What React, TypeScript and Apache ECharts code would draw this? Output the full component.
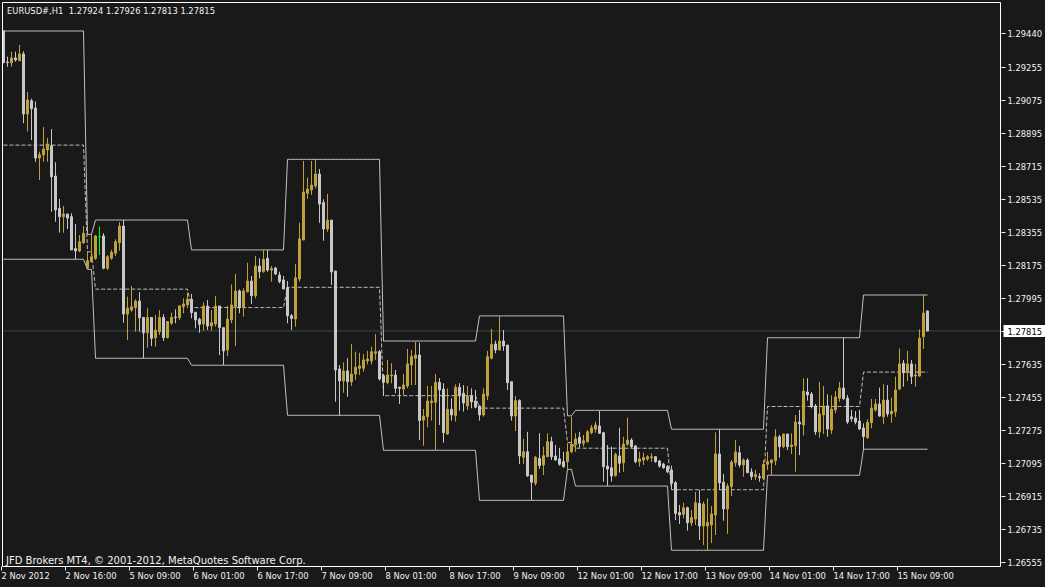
import React, { useEffect, useRef } from "react";
import * as echarts from "echarts";

// ---------- data (EURUSD H1, 2 Nov 2012 00:00 .. 15 Nov 2012 16:00) ----------
const opens = [
  1.29451, 1.29282, 1.29278, 1.29304, 1.29289, 1.29326, 1.28998, 1.29071, 1.29031, 1.28758,
  1.28775, 1.28802, 1.28825, 1.28660, 1.28484, 1.28438, 1.28453, 1.28438, 1.28264, 1.28251,
  1.28296, 1.28157, 1.28193, 1.28211, 1.28329, 1.28333, 1.28157, 1.28211, 1.28239, 1.28296,
  1.28387, 1.27907, 1.27929, 1.27942, 1.27978, 1.27889, 1.27805, 1.27889, 1.27778, 1.27811,
  1.27889, 1.27778, 1.27857, 1.27891, 1.27887, 1.27947, 1.27957, 1.27988, 1.27917, 1.27879,
  1.27853, 1.27951, 1.27842, 1.27853, 1.27951, 1.27833, 1.27711, 1.27875, 1.27947, 1.28033,
  1.27942, 1.28029, 1.28087, 1.28007, 1.28169, 1.28138, 1.28211, 1.28147, 1.28158, 1.28120,
  1.28093, 1.28051, 1.27898, 1.27880, 1.28098, 1.28311, 1.28566, 1.28584, 1.28606, 1.28671,
  1.28515, 1.28371, 1.28420, 1.28142, 1.27608, 1.27542, 1.27597, 1.27537, 1.27580, 1.27611,
  1.27611, 1.27651, 1.27651, 1.27693, 1.27702, 1.27571, 1.27533, 1.27569, 1.27575, 1.27508,
  1.27498, 1.27515, 1.27629, 1.27666, 1.27684, 1.27329, 1.27347, 1.27424, 1.27426, 1.27535,
  1.27498, 1.27253, 1.27388, 1.27353, 1.27508, 1.27475, 1.27406, 1.27460, 1.27433, 1.27406,
  1.27357, 1.27460, 1.27666, 1.27744, 1.27711, 1.27760, 1.27738, 1.27538, 1.27351, 1.27435,
  1.27126, 1.27156, 1.27029, 1.26984, 1.27120, 1.27084, 1.27129, 1.27211, 1.27133, 1.27117,
  1.27102, 1.27102, 1.27156, 1.27193, 1.27235, 1.27202, 1.27211, 1.27260, 1.27279, 1.27297,
  1.27260, 1.27078, 1.27069, 1.27026, 1.27133, 1.27096, 1.27197, 1.27220, 1.27188, 1.27102,
  1.27111, 1.27117, 1.27124, 1.27129, 1.27106, 1.27089, 1.27075, 1.27057, 1.26987, 1.26824,
  1.26815, 1.26851, 1.26769, 1.26789, 1.26875, 1.26751, 1.26751, 1.26757, 1.26811, 1.27144,
  1.26990, 1.26844, 1.26966, 1.27096, 1.27151, 1.27084, 1.27111, 1.27046, 1.27020, 1.27020,
  1.27011, 1.27088, 1.27096, 1.27107, 1.27238, 1.27184, 1.27253, 1.27184, 1.27189, 1.27318,
  1.27302, 1.27482, 1.27471, 1.27406, 1.27265, 1.27357, 1.27406, 1.27275, 1.27384, 1.27448,
  1.27504, 1.27449, 1.27347, 1.27340, 1.27324, 1.27286, 1.27233, 1.27315, 1.27384, 1.27417,
  1.27347, 1.27438, 1.27362, 1.27373, 1.27498, 1.27639, 1.27587, 1.27635, 1.27569, 1.27569,
  1.27784, 1.27924,
];
const highs = [
  1.29454, 1.29311, 1.29338, 1.29338, 1.29375, 1.29340, 1.29118, 1.29082, 1.29067, 1.28793,
  1.28927, 1.28867, 1.28916, 1.28735, 1.28535, 1.28497, 1.28453, 1.28457, 1.28398, 1.28338,
  1.28387, 1.28251, 1.28342, 1.28338, 1.28384, 1.28348, 1.28229, 1.28257, 1.28315, 1.28409,
  1.28420, 1.28002, 1.28060, 1.27988, 1.28026, 1.27889, 1.27939, 1.27889, 1.27902, 1.27929,
  1.27906, 1.27866, 1.27915, 1.27933, 1.27957, 1.27993, 1.28024, 1.28017, 1.27917, 1.27887,
  1.27971, 1.27984, 1.27929, 1.28006, 1.27951, 1.27833, 1.27951, 1.28069, 1.28126, 1.28042,
  1.28048, 1.28187, 1.28115, 1.28224, 1.28211, 1.28257, 1.28257, 1.28169, 1.28165, 1.28138,
  1.28115, 1.28087, 1.27907, 1.28180, 1.28405, 1.28742, 1.28651, 1.28742, 1.28751, 1.28698,
  1.28533, 1.28562, 1.28420, 1.28142, 1.27629, 1.27644, 1.27666, 1.27744, 1.27702, 1.27696,
  1.27689, 1.27707, 1.27729, 1.27798, 1.27711, 1.27580, 1.27657, 1.27639, 1.27602, 1.27511,
  1.27580, 1.27717, 1.27711, 1.27756, 1.27751, 1.27389, 1.27515, 1.27515, 1.27580, 1.27557,
  1.27530, 1.27502, 1.27448, 1.27524, 1.27530, 1.27520, 1.27515, 1.27502, 1.27493, 1.27411,
  1.27502, 1.27706, 1.27826, 1.27762, 1.27897, 1.27820, 1.27738, 1.27538, 1.27460, 1.27442,
  1.27226, 1.27265, 1.27029, 1.27133, 1.27257, 1.27184, 1.27257, 1.27238, 1.27193, 1.27178,
  1.27156, 1.27202, 1.27347, 1.27257, 1.27265, 1.27248, 1.27275, 1.27302, 1.27320, 1.27380,
  1.27265, 1.27193, 1.27184, 1.27151, 1.27287, 1.27238, 1.27342, 1.27230, 1.27193, 1.27156,
  1.27151, 1.27138, 1.27148, 1.27133, 1.27111, 1.27096, 1.27084, 1.27080, 1.26997, 1.26866,
  1.26878, 1.26857, 1.26839, 1.26937, 1.26948, 1.26884, 1.26902, 1.26860, 1.27262, 1.27279,
  1.27035, 1.26984, 1.27111, 1.27220, 1.27188, 1.27120, 1.27120, 1.27066, 1.27057, 1.27039,
  1.27111, 1.27156, 1.27117, 1.27279, 1.27248, 1.27253, 1.27253, 1.27257, 1.27357, 1.27384,
  1.27557, 1.27557, 1.27482, 1.27417, 1.27537, 1.27515, 1.27469, 1.27464, 1.27487, 1.27537,
  1.27778, 1.27466, 1.27384, 1.27378, 1.27384, 1.27311, 1.27333, 1.27444, 1.27444, 1.27506,
  1.27524, 1.27520, 1.27451, 1.27566, 1.27720, 1.27657, 1.27706, 1.27657, 1.27635, 1.27824,
  1.28011, 1.27926,
];
const lows = [
  1.29275, 1.29256, 1.29256, 1.29284, 1.29289, 1.28948, 1.28902, 1.28856, 1.28738, 1.28638,
  1.28738, 1.28738, 1.28465, 1.28411, 1.28351, 1.28351, 1.28371, 1.28257, 1.28206, 1.28244,
  1.28289, 1.28151, 1.28189, 1.28202, 1.28229, 1.28151, 1.28147, 1.28202, 1.28224, 1.28253,
  1.27860, 1.27766, 1.27920, 1.27811, 1.27811, 1.27666, 1.27724, 1.27733, 1.27729, 1.27793,
  1.27760, 1.27775, 1.27847, 1.27857, 1.27875, 1.27911, 1.27939, 1.27884, 1.27829, 1.27805,
  1.27816, 1.27820, 1.27816, 1.27838, 1.27684, 1.27629, 1.27678, 1.27857, 1.27733, 1.27911,
  1.27893, 1.28024, 1.27962, 1.27993, 1.28102, 1.28133, 1.28138, 1.28084, 1.28120, 1.28075,
  1.28044, 1.27857, 1.27820, 1.27838, 1.28084, 1.28311, 1.28535, 1.28557, 1.28593, 1.28405,
  1.28307, 1.28356, 1.28066, 1.27429, 1.27353, 1.27478, 1.27456, 1.27515, 1.27548, 1.27575,
  1.27593, 1.27633, 1.27633, 1.27657, 1.27544, 1.27460, 1.27524, 1.27530, 1.27475, 1.27417,
  1.27466, 1.27502, 1.27520, 1.27520, 1.27220, 1.27189, 1.27290, 1.27326, 1.27166, 1.27302,
  1.27206, 1.27248, 1.27326, 1.27320, 1.27380, 1.27375, 1.27384, 1.27393, 1.27393, 1.27326,
  1.27347, 1.27438, 1.27660, 1.27693, 1.27711, 1.27706, 1.27493, 1.27326, 1.27269, 1.27089,
  1.27089, 1.27020, 1.26893, 1.26971, 1.27062, 1.27029, 1.27129, 1.27111, 1.27107, 1.27080,
  1.27069, 1.27060, 1.27148, 1.27156, 1.27178, 1.27184, 1.27206, 1.27251, 1.27260, 1.27253,
  1.26993, 1.26969, 1.26993, 1.27020, 1.27042, 1.27047, 1.27188, 1.27175, 1.27093, 1.27075,
  1.27084, 1.27106, 1.27102, 1.27096, 1.27069, 1.27062, 1.27039, 1.26951, 1.26784, 1.26762,
  1.26793, 1.26726, 1.26751, 1.26757, 1.26675, 1.26648, 1.26619, 1.26658, 1.26702, 1.26948,
  1.26780, 1.26708, 1.26915, 1.27075, 1.27071, 1.27020, 1.27039, 1.27002, 1.27002, 1.26993,
  1.27002, 1.27057, 1.27029, 1.27082, 1.27124, 1.27175, 1.27166, 1.27144, 1.27047, 1.27138,
  1.27244, 1.27435, 1.27393, 1.27248, 1.27233, 1.27253, 1.27238, 1.27253, 1.27366, 1.27429,
  1.27438, 1.27308, 1.27320, 1.27306, 1.27275, 1.27171, 1.27227, 1.27284, 1.27375, 1.27347,
  1.27308, 1.27347, 1.27315, 1.27347, 1.27493, 1.27511, 1.27542, 1.27525, 1.27511, 1.27566,
  1.27717, 1.27813,
];
const closes = [
  1.29279, 1.29279, 1.29304, 1.29293, 1.29326, 1.28998, 1.29075, 1.29027, 1.28758, 1.28776,
  1.28807, 1.28835, 1.28656, 1.28475, 1.28438, 1.28453, 1.28431, 1.28257, 1.28251, 1.28302,
  1.28348, 1.28198, 1.28220, 1.28333, 1.28329, 1.28157, 1.28220, 1.28244, 1.28302, 1.28387,
  1.27907, 1.27940, 1.27947, 1.27978, 1.27887, 1.27805, 1.27889, 1.27775, 1.27820, 1.27889,
  1.27778, 1.27866, 1.27889, 1.27888, 1.27951, 1.27962, 1.27988, 1.27915, 1.27875, 1.27851,
  1.27951, 1.27842, 1.27860, 1.27951, 1.27833, 1.27706, 1.27880, 1.27957, 1.28033, 1.27942,
  1.28033, 1.28087, 1.28007, 1.28169, 1.28138, 1.28206, 1.28147, 1.28156, 1.28126, 1.28084,
  1.28044, 1.27898, 1.27884, 1.28105, 1.28317, 1.28573, 1.28589, 1.28611, 1.28671, 1.28507,
  1.28371, 1.28420, 1.28137, 1.27602, 1.27542, 1.27597, 1.27538, 1.27580, 1.27617, 1.27624,
  1.27657, 1.27662, 1.27702, 1.27702, 1.27553, 1.27535, 1.27575, 1.27575, 1.27502, 1.27502,
  1.27520, 1.27635, 1.27675, 1.27684, 1.27326, 1.27351, 1.27433, 1.27433, 1.27535, 1.27493,
  1.27260, 1.27388, 1.27357, 1.27508, 1.27466, 1.27422, 1.27460, 1.27428, 1.27399, 1.27357,
  1.27471, 1.27675, 1.27742, 1.27711, 1.27760, 1.27733, 1.27533, 1.27351, 1.27435, 1.27133,
  1.27156, 1.27024, 1.26990, 1.27126, 1.27080, 1.27135, 1.27211, 1.27129, 1.27111, 1.27088,
  1.27075, 1.27156, 1.27198, 1.27226, 1.27202, 1.27216, 1.27265, 1.27287, 1.27302, 1.27257,
  1.27075, 1.27062, 1.27024, 1.27142, 1.27093, 1.27198, 1.27220, 1.27184, 1.27102, 1.27117,
  1.27124, 1.27129, 1.27129, 1.27102, 1.27078, 1.27069, 1.27047, 1.26984, 1.26820, 1.26811,
  1.26851, 1.26769, 1.26797, 1.26878, 1.26751, 1.26871, 1.26771, 1.26817, 1.27144, 1.26987,
  1.26844, 1.26969, 1.27100, 1.27155, 1.27084, 1.27111, 1.27042, 1.27020, 1.27033, 1.27015,
  1.27088, 1.27102, 1.27111, 1.27238, 1.27184, 1.27253, 1.27184, 1.27193, 1.27318, 1.27308,
  1.27487, 1.27466, 1.27402, 1.27265, 1.27362, 1.27406, 1.27280, 1.27389, 1.27455, 1.27504,
  1.27446, 1.27318, 1.27336, 1.27318, 1.27280, 1.27238, 1.27317, 1.27395, 1.27417, 1.27351,
  1.27438, 1.27362, 1.27378, 1.27493, 1.27635, 1.27587, 1.27635, 1.27566, 1.27575, 1.27775,
  1.27913, 1.27815,
];

// daily high / low channel (one entry per trading session)
const dayStarts = [0, 21, 23, 47, 71, 95, 119, 141, 143, 167, 191, 215];
const dayHighs = [1.29451, 1.28342, 1.2842, 1.28257, 1.28751, 1.2776, 1.27897, 1.27352, 1.27382, 1.27279, 1.27778, 1.28011];
const dayLows = [1.28206, 1.28151, 1.27666, 1.27628, 1.27355, 1.27164, 1.26891, 1.2706, 1.26969, 1.26619, 1.27028, 1.2717];

// axis labels
const timeTickBars = [0, 16, 32, 48, 64, 80, 96, 112, 128, 144, 160, 176, 192, 208, 224];
const timeTickLabels = [
  "2 Nov 2012", "2 Nov 16:00", "5 Nov 09:00", "6 Nov 01:00", "6 Nov 17:00", "7 Nov 09:00",
  "8 Nov 01:00", "8 Nov 17:00", "9 Nov 09:00", "12 Nov 01:00", "12 Nov 17:00", "13 Nov 09:00",
  "14 Nov 01:00", "14 Nov 17:00", "15 Nov 09:00",
];
const priceTicks = [
  1.2944, 1.29255, 1.29075, 1.28895, 1.28715, 1.28535, 1.28355, 1.28175, 1.27995, 1.27815,
  1.27635, 1.27455, 1.27275, 1.27095, 1.26915, 1.26735, 1.26555,
];
const symbolName = "EURUSD#,H1";
const footerText = "JFD Brokers MT4, \u00a9 2001-2012, MetaQuotes Software Corp.";

// ---------- styles ----------
const BG = "#191919";
const BULL = "#BFA13E";
const BEAR = "#C8C8C8";
const CHANNEL = "#C0C0C0";
const PRICE_LINE = "#2F4F4F";
const TEXT = "#F2F2F2";
const FONT = "'DejaVu Sans Condensed', 'DejaVu Sans', sans-serif";
const FOOTER_FONT = "'DejaVu Sans', sans-serif";
const FONT_SIZE = 9.3;
const SLOTS = 250;

function buildOption() {
  const n = opens.length;
  const last = n - 1;
  const categories = Array.from({ length: SLOTS }, (_, i) => String(i));
  const labelSlots = Array.from({ length: SLOTS + 1 }, (_, i) => String(i));
  const candles = opens.map((o, i) => [o, closes[i], lows[i], highs[i]]);
  const dayIndex = (i: number) => {
    let d = 0;
    for (let k = 0; k < dayStarts.length; k++) if (i >= dayStarts[k]) d = k;
    return d;
  };
  const upper = opens.map((_, i) => dayHighs[dayIndex(i)]);
  const lower = opens.map((_, i) => dayLows[dayIndex(i)]);
  const middle = opens.map((_, i) => (dayHighs[dayIndex(i)] + dayLows[dayIndex(i)]) / 2);
  const lastClose = closes[last];
  const priceLine = categories.map(() => lastClose);
  const showTime = (idx: number) => timeTickBars.indexOf(idx) >= 0;
  const title =
    symbolName + "  " + [opens[last], highs[last], lows[last], closes[last]].map((v) => v.toFixed(5)).join(" ");

  return {
    animation: false,
    backgroundColor: BG,
    grid: {
      left: 1.5,
      top: 2,
      width: 1000,
      height: 564.5,
      containLabel: false,
      outerBoundsMode: "none",
    },
    xAxis: [
      {
        type: "category",
        data: categories,
        boundaryGap: true,
        axisLine: { show: false },
        splitLine: { show: false },
        axisTick: { show: false },
        axisLabel: { show: false },
      },
      {
        type: "category",
        data: labelSlots,
        boundaryGap: false,
        position: "bottom",
        axisLine: { show: false },
        splitLine: { show: false },
        axisTick: {
          show: true,
          interval: (idx: number) => showTime(idx),
          length: 4,
          lineStyle: { color: TEXT, width: 1 },
        },
        axisLabel: {
          interval: (idx: number) => showTime(idx),
          formatter: (_v: string, idx: number) => {
            const k = timeTickBars.indexOf(idx);
            return k >= 0 ? timeTickLabels[k] : "";
          },
          align: "left",
          color: TEXT,
          fontFamily: FONT,
          fontSize: FONT_SIZE,
          margin: 4,
        },
      },
    ],
    yAxis: {
      type: "value",
      position: "right",
      min: 1.2653031,
      max: 1.2960909,
      splitLine: { show: false },
      axisLine: { show: false },
      axisTick: {
        show: true,
        customValues: priceTicks,
        length: 4,
        lineStyle: { color: TEXT, width: 1 },
      },
      axisLabel: {
        customValues: priceTicks,
        formatter: (v: number) =>
          Math.abs(v - lastClose) < 1e-7 ? "{cur|" + v.toFixed(5) + "}" : "{n|" + v.toFixed(5) + "}",
        color: TEXT,
        fontFamily: FONT,
        fontSize: FONT_SIZE,
        margin: 2,
        rich: {
          n: { color: TEXT, fontFamily: FONT, fontSize: FONT_SIZE, padding: [2, 3, 1, 4] },
          cur: {
            color: "#000000",
            backgroundColor: "#FFFFFF",
            fontFamily: FONT,
            fontSize: FONT_SIZE,
            padding: [2, 3, 1, 4],
          },
        },
      },
    },
    series: [
      {
        type: "line",
        data: priceLine,
        symbol: "none",
        silent: true,
        z: 1,
        lineStyle: { color: PRICE_LINE, width: 1 },
      },
      {
        type: "line",
        data: upper,
        symbol: "none",
        silent: true,
        z: 2,
        lineStyle: { color: CHANNEL, width: 1 },
      },
      {
        type: "line",
        data: lower,
        symbol: "none",
        silent: true,
        z: 2,
        lineStyle: { color: CHANNEL, width: 1 },
      },
      {
        type: "line",
        data: middle,
        symbol: "none",
        silent: true,
        z: 2,
        lineStyle: { color: CHANNEL, width: 1, type: [4, 2] },
      },
      {
        type: "candlestick",
        data: candles,
        barWidth: 2,
        z: 3,
        silent: true,
        itemStyle: {
          color: BULL,
          color0: BEAR,
          borderColor: BULL,
          borderColor0: BEAR,
          borderColorDoji: "#00FF00",
          borderWidth: 1,
        },
      },
    ],
    graphic: [
      {
        type: "rect",
        silent: true,
        z: 100,
        shape: { x: 2.5, y: 2.5, width: 998, height: 564 },
        style: { fill: "none", stroke: "#FFFFFF", lineWidth: 1 },
      },
      {
        type: "text",
        left: 7,
        top: 6,
        silent: true,
        z: 101,
        style: { text: title, fill: TEXT, font: `${FONT_SIZE}px ${FONT}` },
      },
      {
        type: "text",
        left: 6,
        top: 555,
        silent: true,
        z: 101,
        style: { text: footerText, fill: TEXT, font: `10px ${FOOTER_FONT}` },
      },
    ],
  };
}

export default function App() {
  const ref = useRef<HTMLDivElement>(null);
  useEffect(() => {
    if (!ref.current) return;
    const chart = echarts.init(ref.current, null, { renderer: "svg", width: 1045, height: 587 });
    chart.setOption(buildOption() as any);
    return () => chart.dispose();
  }, []);
  return (
    <div
      ref={ref}
      style={{ position: "fixed", left: 0, top: 0, width: 1045, height: 587, background: BG }}
    />
  );
}
